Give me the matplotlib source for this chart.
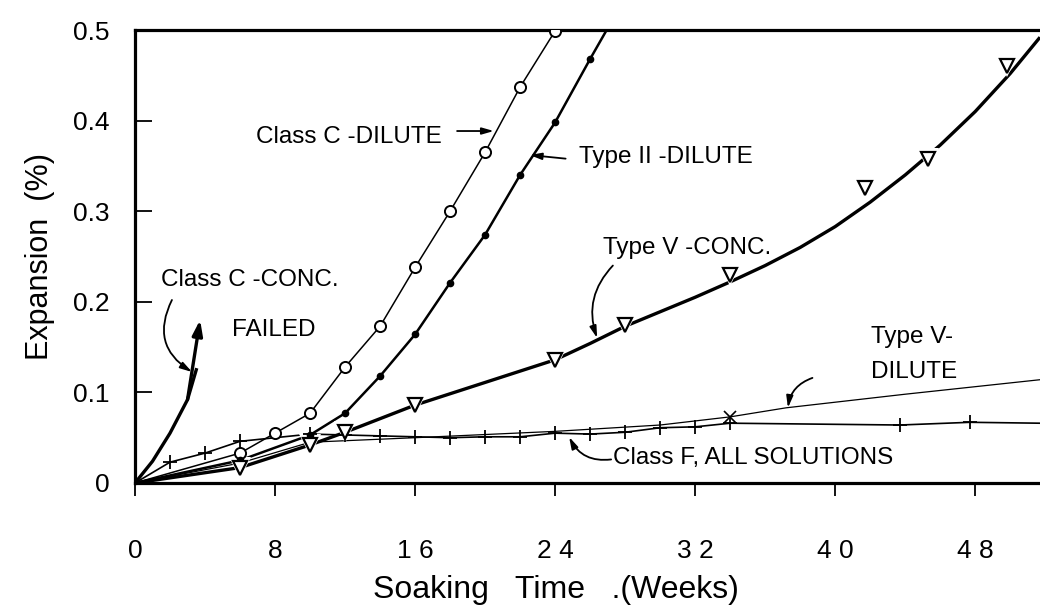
import matplotlib
matplotlib.use("Agg")
import matplotlib.pyplot as plt
from matplotlib import font_manager as fm

# ---------------- data ----------------
classC_dil_weeks = [6, 8, 10, 12, 14, 16, 18, 20, 22, 24]
classC_dil_exp = [0.033, 0.055, 0.077, 0.128, 0.173, 0.238, 0.300, 0.365, 0.437, 0.499]

typeII_dil_weeks = [6, 10, 12, 14, 16, 18, 20, 22, 24, 26]
typeII_dil_exp = [0.025, 0.053, 0.077, 0.118, 0.164, 0.221, 0.274, 0.340, 0.398, 0.468]
typeII_dil_tail_weeks = [27.3]
typeII_dil_tail_exp = [0.512]

typeV_conc_weeks = [6, 10, 12, 16, 24, 28, 34, 41.7, 45.3, 49.8]
typeV_conc_exp = [0.017, 0.042, 0.056, 0.086, 0.136, 0.174, 0.230, 0.326, 0.358, 0.460]
typeV_conc_curve_weeks = [0, 6, 10, 12, 16, 20, 24, 26, 28, 30, 32, 34, 36, 38, 40,
                          42, 44, 46, 48, 50, 51.7]
typeV_conc_curve_exp = [0, 0.017, 0.042, 0.056, 0.086, 0.111, 0.136, 0.154, 0.173, 0.189,
                        0.205, 0.222, 0.240, 0.260, 0.283, 0.310, 0.340, 0.373, 0.410,
                        0.452, 0.492]

classF_weeks = [2, 4, 6, 10, 12, 14, 16, 18, 20, 22, 24, 26, 28, 30, 32, 34, 43.7, 47.7]
classF_exp = [0.023, 0.033, 0.046, 0.054, 0.053, 0.052, 0.051, 0.050, 0.051, 0.051,
              0.055, 0.054, 0.056, 0.061, 0.062, 0.066, 0.064, 0.067]
classF_tail_weeks = [51.7]
classF_tail_exp = [0.066]

typeV_dil_curve_weeks = [0, 6, 10, 16, 24, 30, 34, 37.2, 44, 51.7]
typeV_dil_curve_exp = [0, 0.022, 0.045, 0.050, 0.057, 0.064, 0.073, 0.083, 0.098, 0.114]
typeV_dil_marker_weeks = [34]
typeV_dil_marker_exp = [0.073]

classC_conc_weeks = [0, 1, 2, 3, 3.5, 3.72]
classC_conc_exp = [0, 0.024, 0.055, 0.092, 0.125, 0.180]

x_ticks = [0, 8, 16, 24, 32, 40, 48]
x_tick_labels = ["0", "8", "1 6", "2 4", "3 2", "4 0", "4 8"]
y_ticks = [0, 0.1, 0.2, 0.3, 0.4, 0.5]
y_tick_labels = ["0", "0.1", "0.2", "0.3", "0.4", "0.5"]


def has_font(name):
    try:
        fm.findfont(fm.FontProperties(family=name), fallback_to_default=False)
        return True
    except Exception:
        return False


if has_font("Liberation Sans Narrow"):
    NARROW, NSIZE = "Liberation Sans Narrow", 20
else:
    NARROW, NSIZE = "Liberation Sans", 17.5
REG = "Liberation Sans"

plt.rcParams["font.family"] = [REG, "DejaVu Sans"]

fig = plt.figure(figsize=(10.4, 6.05), dpi=100)
W, H = 1040.0, 605.0
ax = fig.add_axes([135 / W, (H - 483) / H, (W - 135) / W, (483 - 30) / H])
ax.set_xlim(0, 51.7)
ax.set_ylim(0, 0.5)

for s in ["left", "bottom", "top"]:
    ax.spines[s].set_linewidth(2.3)
ax.spines["right"].set_visible(False)

ax.set_xticks(x_ticks)
ax.set_xticklabels(x_tick_labels, fontfamily=NARROW, fontsize=19)
ax.set_yticks(y_ticks)
ax.set_yticklabels(y_tick_labels, fontsize=19)
ax.tick_params(axis="x", direction="out", length=9, width=1.3, pad=31)
ax.tick_params(axis="y", direction="in", length=12, width=1.3, pad=18)

ax.set_ylabel("Expansion  (%)", fontsize=22)
ax.yaxis.set_label_coords((40 - 135) / 905, (483 - 257) / 453)
ax.yaxis.label.set_va("center")
ax.set_xlabel("Soaking   Time   .(Weeks)", fontsize=23)
ax.xaxis.set_label_coords((556 - 135) / 905, (483 - 590) / 453)
ax.xaxis.label.set_va("center")

# ---------------- curves ----------------
# Class C dilute: open circles, thin line
ax.plot([0] + classC_dil_weeks, [0] + classC_dil_exp, color="black", lw=1.1, zorder=3)
ax.plot(classC_dil_weeks, classC_dil_exp, ls="none", marker="o", ms=8,
        mfc="white", mec="black", mew=1.4, zorder=5)

# Type II dilute: filled dots
ax.plot([0] + typeII_dil_weeks + typeII_dil_tail_weeks,
        [0] + typeII_dil_exp + typeII_dil_tail_exp, color="black", lw=1.8, zorder=3)
ax.plot(typeII_dil_weeks, typeII_dil_exp, ls="none", marker="o", ms=4.5,
        mfc="black", mec="black", zorder=5)

# Type V conc: open down-triangles on a heavy line with gaps
ax.plot(typeV_conc_curve_weeks, typeV_conc_curve_exp, color="black", lw=2.4,
        solid_capstyle="butt", solid_joinstyle="round", zorder=3)
ax.plot(typeV_conc_weeks, typeV_conc_exp, ls="none", marker="v", ms=16,
        mfc="white", mec="white", mew=0, zorder=4)
ax.plot(typeV_conc_weeks, typeV_conc_exp, ls="none", marker="v", ms=10,
        mfc="white", mec="black", mew=1.6, zorder=6)

# Class F: plus markers
ax.plot([0] + classF_weeks + classF_tail_weeks, [0] + classF_exp + classF_tail_exp,
        color="black", lw=1.2, zorder=3)
ax.plot(classF_weeks, classF_exp, ls="none", marker="+", ms=10, mew=1.3,
        color="black", zorder=5)

# Type V dilute: thin line
ax.plot(typeV_dil_curve_weeks, typeV_dil_curve_exp, color="black", lw=0.9, zorder=3)
ax.plot(typeV_dil_marker_weeks, typeV_dil_marker_exp, ls="none", marker="x", ms=8,
        mew=1.2, color="black", zorder=5)

# Class C conc: failed, heavy curve ending in arrow
ax.plot(classC_conc_weeks[:-1], classC_conc_exp[:-1], color="black", lw=2.4, zorder=3)
ax.annotate("", xy=(classC_conc_weeks[-1], classC_conc_exp[-1]),
            xytext=(classC_conc_weeks[-3], classC_conc_exp[-3]),
            arrowprops=dict(arrowstyle="-|>,head_length=0.9,head_width=0.3",
                            lw=2.4, color="black", shrinkA=0, shrinkB=0))

# ---------------- annotations ----------------
tk = dict(fontfamily=NARROW, fontsize=NSIZE, color="black")
arr = dict(arrowstyle="-|>,head_length=0.7,head_width=0.2", lw=1.3,
           color="black", shrinkA=0, shrinkB=0)

ax.text(12.23, 0.382, "Class C -DILUTE", ha="center", va="center", **tk)
ax.annotate("", xy=(20.5, 0.3885), xytext=(18.4, 0.3885), arrowprops=arr)

ax.text(30.34, 0.360, "Type II -DILUTE", ha="center", va="center", **tk)
ax.annotate("", xy=(22.55, 0.362), xytext=(24.6, 0.358), arrowprops=arr)

ax.text(31.54, 0.259, "Type V -CONC.", ha="center", va="center", **tk)
ax.annotate("", xy=(26.4, 0.160), xytext=(27.3, 0.240),
            arrowprops=dict(arr, connectionstyle="arc3,rad=0.3"))

ax.text(42.06, 0.161, "Type V-", ha="left", va="center", **tk)
ax.text(42.06, 0.1225, "DILUTE", ha="left", va="center", **tk)
ax.annotate("", xy=(37.3, 0.083), xytext=(38.7, 0.116),
            arrowprops=dict(arr, connectionstyle="arc3,rad=0.3"))

ax.text(27.3, 0.0276, "Class F, ALL SOLUTIONS", ha="left", va="center", **tk)
ax.annotate("", xy=(24.8, 0.0508), xytext=(27.2, 0.026),
            arrowprops=dict(arr, connectionstyle="arc3,rad=-0.35"))

ax.text(6.57, 0.224, "Class C -CONC.", ha="center", va="center", **tk)
ax.text(7.94, 0.169, "FAILED", ha="center", va="center", **tk)
ax.annotate("", xy=(3.26, 0.1225), xytext=(2.11, 0.202),
            arrowprops=dict(arr, connectionstyle="arc3,rad=0.45"))

fig.savefig("out.png", dpi=100)
